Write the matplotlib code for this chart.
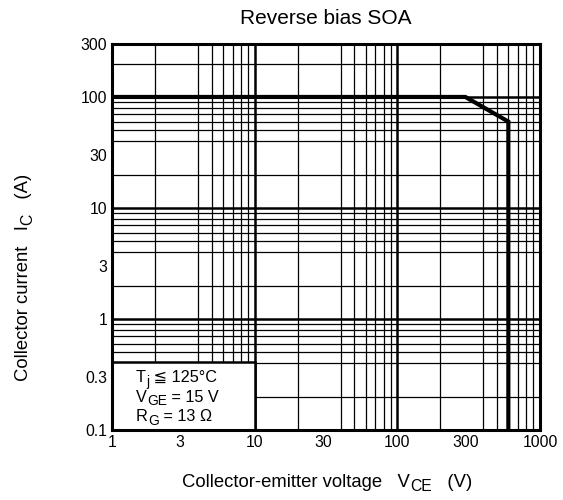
import matplotlib.pyplot as plt
from matplotlib.ticker import FixedLocator, FixedFormatter, LogLocator, NullFormatter
from matplotlib.patches import Rectangle
from matplotlib.transforms import IdentityTransform

plt.rcParams['font.family'] = ['Liberation Sans', 'DejaVu Sans']

# Data
vce = [1, 300, 600, 600]
ic = [100, 100, 60, 0.1]
xticks = [1, 3, 10, 30, 100, 300, 1000]
xticklabels = ['1', '3', '10', '30', '100', '300', '1000']
yticks = [0.1, 0.3, 1, 3, 10, 30, 100, 300]
yticklabels = ['0.1', '0.3', '1', '3', '10', '30', '100', '300']
legend_lines = [[('T', 0), ('j', 1), (' ≦ 125°C', 0)],
                [('V', 0), ('GE', 1), (' = 15 V', 0)],
                [('R', 0), ('G', 1), (' = 13 Ω', 0)]]
xlabel_parts = [('Collector-emitter voltage   V', 0), ('CE', 1), ('   (V)', 0)]
ylabel_parts = [('Collector current   I', 0), ('C', 1), ('   (A)', 0)]

fig = plt.figure(figsize=(5.63, 5.0), dpi=100)
renderer = fig.canvas.get_renderer()


def compose(x, y, parts, size, align='center', rotation=0):
    # text with subscripts; x, y = baseline pixels from top-left corner
    texts = []
    for s, sub in parts:
        fs = size * 0.85 if sub else size
        t = fig.text(0, 0, s, fontsize=fs, transform=IdentityTransform(),
                     rotation=rotation, rotation_mode='anchor',
                     va='baseline', ha='left',
                     family=['Liberation Sans', 'DejaVu Sans'], zorder=10)
        t.set_in_layout(False)
        texts.append((t, sub))
    widths = []
    for t, sub in texts:
        bb = t.get_window_extent(renderer)
        widths.append(bb.height if rotation else bb.width)
    total = sum(widths)
    pos = -total / 2 if align == 'center' else 0
    drop = size * 0.3
    for (t, sub), w in zip(texts, widths):
        d = drop if sub else 0
        if rotation:
            t.set_position((x + d, 500 - y + pos))
        else:
            t.set_position((x + pos, 500 - y - d))
        pos += w
    return texts


ax = fig.add_axes([112/563, 1 - 430/500, 428/563, 386/500])
ax.set_xscale('log')
ax.set_yscale('log')
ax.set_xlim(1, 1000)
ax.set_ylim(0.1, 300)

# Grid
ax.xaxis.set_minor_locator(LogLocator(base=10, subs=range(2, 10)))
ax.yaxis.set_minor_locator(LogLocator(base=10, subs=range(2, 10)))
ax.xaxis.set_minor_formatter(NullFormatter())
ax.yaxis.set_minor_formatter(NullFormatter())
ax.grid(which='minor', color='black', linewidth=0.9)
for d in [10, 100]:
    ax.axvline(d, color='black', linewidth=1.8, zorder=1)
for d in [1, 10, 100]:
    ax.axhline(d, color='black', linewidth=1.8, zorder=1)

ax.xaxis.set_major_locator(FixedLocator(xticks))
ax.xaxis.set_major_formatter(FixedFormatter(xticklabels))
ax.yaxis.set_major_locator(FixedLocator(yticks))
ax.yaxis.set_major_formatter(FixedFormatter(yticklabels))
ax.tick_params(which='both', length=0, labelsize=11.3, pad=3.5)

# Curve
ax.plot(vce, ic, color='black', linewidth=3, zorder=4, solid_joinstyle='miter')

# Legend box
ax.add_patch(Rectangle((1, 0.1), 9, 0.31, facecolor='white', edgecolor='black',
                       linewidth=1.8, zorder=5))

for s in ax.spines.values():
    s.set_linewidth(2.2)
    s.set_zorder(7)

# Decorate
fig.text(326, 500 - 24, 'Reverse bias SOA', ha='center', va='baseline',
         fontsize=15, transform=IdentityTransform())
for i, parts in enumerate(legend_lines):
    compose(136, 382 + 19.5 * i, parts, 11.7, align='left')
compose(327, 487, xlabel_parts, 13.3)
compose(28, 277, ylabel_parts, 13.3, rotation=90)

fig.savefig('out.png', dpi=100)
